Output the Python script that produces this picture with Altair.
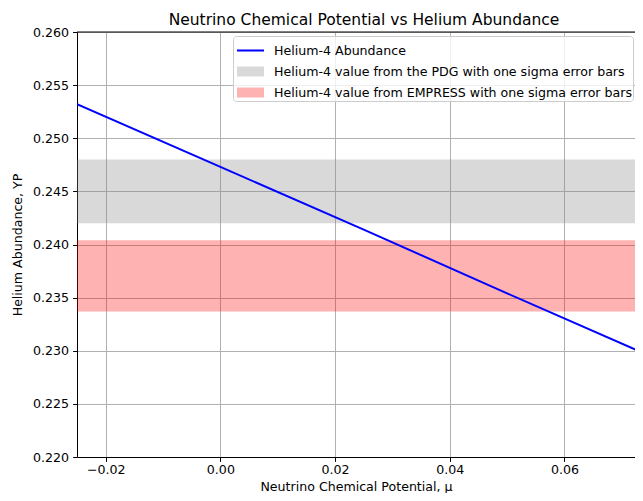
import altair as alt
import pandas as pd

# ---- data ----
mu_values = [-0.025, 0.0, 0.025, 0.05, 0.075]
yp_values = [0.2532, 0.2473, 0.2414, 0.2354, 0.2295]

band_labels = [
    "Helium-4 value from the PDG with one sigma error bars",
    "Helium-4 value from EMPRESS with one sigma error bars",
]
band_low = [0.242, 0.2337]
band_high = [0.248, 0.2404]

line_label = "Helium-4 Abundance"
series_domain = [line_label] + band_labels
series_colors = ["#0000ff", "#808080", "#ff0000"]
series_opacity = [1.0, 0.3, 0.3]
series_shapes = ["M-1,-0.075H1V0.075H-1Z", "M-1,-0.37H1V0.37H-1Z", "M-1,-0.37H1V0.37H-1Z"]

x_ticks = [-0.02, 0.0, 0.02, 0.04, 0.06]
y_ticks = [0.220, 0.225, 0.230, 0.235, 0.240, 0.245, 0.250, 0.255, 0.260]
x_domain = [-0.025, 0.0723]
y_domain = [0.220, 0.260]

line_df = pd.DataFrame({"mu": mu_values, "yp": yp_values, "series": line_label})
band_df = pd.DataFrame({"series": band_labels, "low": band_low, "high": band_high})
key_df = pd.DataFrame({"series": series_domain})
top_df = pd.DataFrame({"y": [y_domain[1]]})

FONT = "DejaVu Sans"
FS = 12.6

color_scale = alt.Scale(domain=series_domain, range=series_colors)
shape_scale = alt.Scale(domain=series_domain, range=series_shapes)
opacity_scale = alt.Scale(type="ordinal", domain=series_domain, range=series_opacity)
x_scale = alt.Scale(domain=x_domain, nice=False, zero=False)
y_scale = alt.Scale(domain=y_domain, nice=False, zero=False)

legend = alt.Legend(
    title=None,
    orient="none",
    legendX=156,
    legendY=4,
    labelFont=FONT,
    labelFontSize=FS,
    labelColor="black",
    symbolSize=729,
    symbolStrokeWidth=0,
    symbolOffset=3,
    labelOffset=10,
    rowPadding=-2,
    padding=1,
    fillColor="rgba(255,255,255,0.8)",
    strokeColor="#cccccc",
    cornerRadius=3,
    labelLimit=600,
)

# legend key carrier: no rows drawn, only the legend entries from the fixed domains
key = alt.Chart(key_df).transform_filter("false").mark_point(filled=True).encode(
    color=alt.Color("series:N", scale=color_scale, legend=legend),
    shape=alt.Shape("series:N", scale=shape_scale, legend=legend),
    opacity=alt.Opacity("series:N", scale=opacity_scale, legend=legend),
)

bands = alt.Chart(band_df).mark_rect(opacity=0.3).encode(
    y=alt.Y("low:Q", scale=y_scale),
    y2="high:Q",
    color=alt.Color("series:N", scale=color_scale, legend=legend),
)

line = alt.Chart(line_df).mark_line(strokeWidth=2, clip=True).encode(
    x=alt.X(
        "mu:Q",
        scale=x_scale,
        axis=alt.Axis(values=x_ticks, format=".2f", title="Neutrino Chemical Potential, μ"),
    ),
    y=alt.Y(
        "yp:Q",
        scale=y_scale,
        axis=alt.Axis(values=y_ticks, format=".3f", title="Helium Abundance, YP"),
    ),
    color=alt.Color("series:N", scale=color_scale, legend=legend),
)

top = alt.Chart(top_df).mark_rule(color="black", strokeWidth=1).encode(y=alt.Y("y:Q", scale=y_scale))

chart = (
    alt.layer(key, bands, line, top)
    .properties(
        width=558,
        height=425,
        autosize=alt.AutoSizeParams(type="none"),
        padding={"left": 69, "top": 24, "right": 0, "bottom": 36},
        title=alt.TitleParams(
            "Neutrino Chemical Potential vs Helium Abundance",
            font=FONT,
            fontSize=15.5,
            fontWeight="normal",
            color="black",
            anchor="middle",
            dx=8,
            offset=-2,
        ),
    )
    .configure_view(stroke=None)
    .configure_axis(
        labelFont=FONT,
        labelFontSize=FS,
        labelColor="black",
        titleFont=FONT,
        titleFontSize=FS,
        titleFontWeight="normal",
        titleColor="black",
        domainColor="black",
        domainWidth=1,
        tickColor="black",
        tickSize=4.4,
        tickWidth=1,
        labelPadding=4,
        gridColor="#b0b0b0",
        gridWidth=1,
    )
    .configure_axisX(labelPadding=2, titleBaseline="alphabetic", titleY=33, labelFlush=False)
    .configure_axisY(titlePadding=8, labelFlush=False)
)

chart.save("out.html", embed_options={"renderer": "svg", "actions": False})
